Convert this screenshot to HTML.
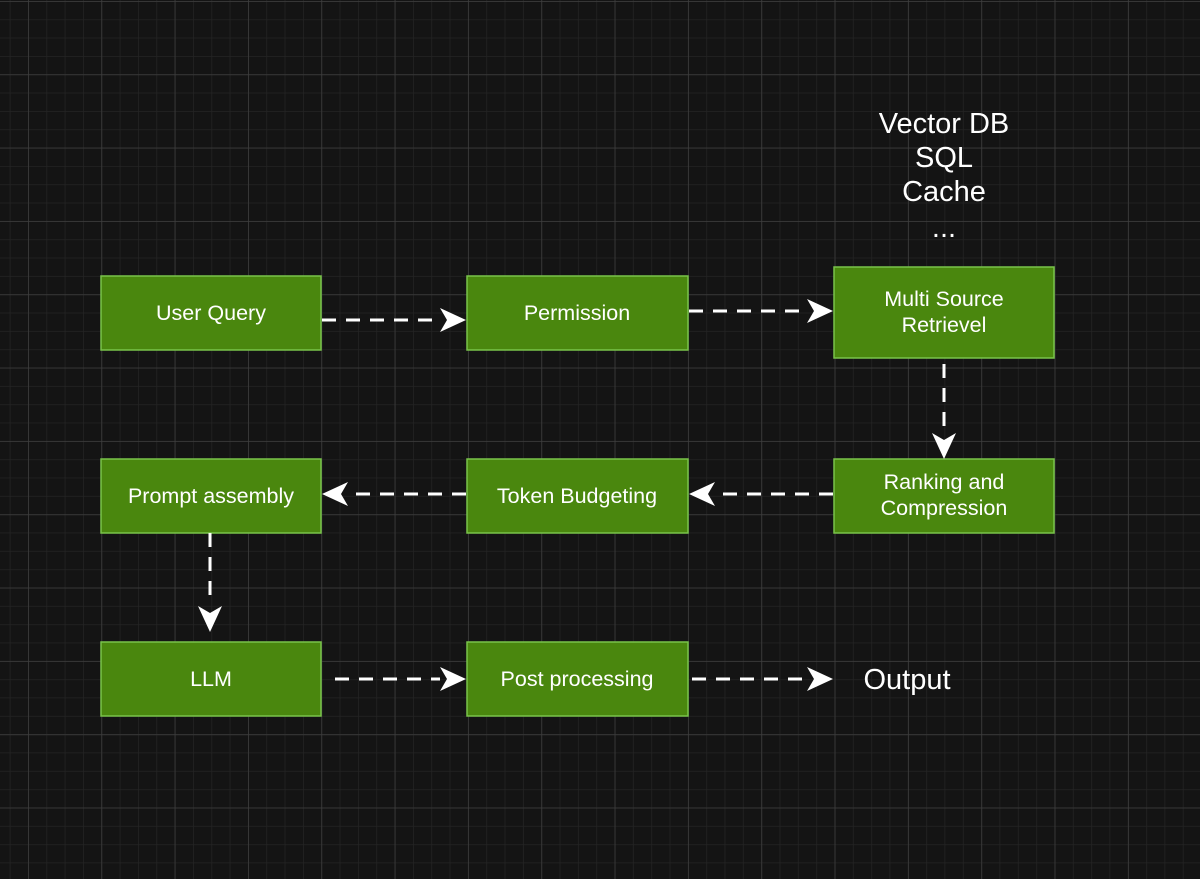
<!DOCTYPE html>
<html><head><style>
body{margin:0;background:#141414;}
svg{display:block}
text{font-family:"Liberation Sans",Arial,sans-serif;fill:#fff;text-anchor:middle}
</style></head><body>
<svg width="1200" height="879" xmlns="http://www.w3.org/2000/svg">
<defs>
<pattern id="minor" x="9.7" y="1" width="18.33" height="18.33" patternUnits="userSpaceOnUse">
<path d="M0 0H18.33M0 0V18.33" stroke="#242424" stroke-width="1.5" fill="none"/>
</pattern>
<pattern id="major" x="28" y="1" width="73.33" height="73.33" patternUnits="userSpaceOnUse">
<path d="M0 0H73.33M0 0V73.33" stroke="#3e3e3e" stroke-width="1.5" fill="none"/>
</pattern>
</defs>
<rect width="1200" height="879" fill="#141414"/>
<rect width="1200" height="879" fill="url(#minor)"/>
<rect width="1200" height="879" fill="url(#major)"/>
<g fill="#4a870e" stroke="#79c44a" stroke-width="1.5">
<rect x="101" y="276" width="220" height="74"/>
<rect x="467" y="276" width="221" height="74"/>
<rect x="834" y="267" width="220" height="91"/>
<rect x="101" y="459" width="220" height="74"/>
<rect x="467" y="459" width="221" height="74"/>
<rect x="834" y="459" width="220" height="74"/>
<rect x="101" y="642" width="220" height="74"/>
<rect x="467" y="642" width="221" height="74"/>
</g>
<g stroke="#fff" stroke-width="3" stroke-dasharray="14 10" fill="none">
<path d="M322 320H440" />
<path d="M689 311H808" />
<path d="M944 364V434" />
<path d="M833 494H715" />
<path d="M466 494H348" />
<path d="M210 533V605" />
<path d="M335 679H440" />
<path d="M692 679H808" />
</g>
<g fill="#fff">
<path d="M466 320L440 308L447 320L440 332Z"/>
<path d="M833 311L807 299L814 311L807 323Z"/>
<path d="M944 459L932 433L944 440L956 433Z"/>
<path d="M689 494L715 482L708 494L715 506Z"/>
<path d="M322 494L348 482L341 494L348 506Z"/>
<path d="M210 632L198 606L210 613L222 606Z"/>
<path d="M466 679L440 667L447 679L440 691Z"/>
<path d="M833 679L807 667L814 679L807 691Z"/>
</g>
<g font-size="21.5">
<text x="211" y="320">User Query</text>
<text x="577" y="320">Permission</text>
<text x="944" y="306">Multi Source</text>
<text x="944" y="332">Retrievel</text>
<text x="211" y="503">Prompt assembly</text>
<text x="577" y="503">Token Budgeting</text>
<text x="944" y="489">Ranking and</text>
<text x="944" y="515">Compression</text>
<text x="211" y="686">LLM</text>
<text x="577" y="686">Post processing</text>
</g>
<g font-size="29">
<text x="944" y="133">Vector DB</text>
<text x="944" y="167">SQL</text>
<text x="944" y="201">Cache</text>
<text x="944" y="237">...</text>
<text x="907" y="689">Output</text>
</g>
</svg>
</body></html>
